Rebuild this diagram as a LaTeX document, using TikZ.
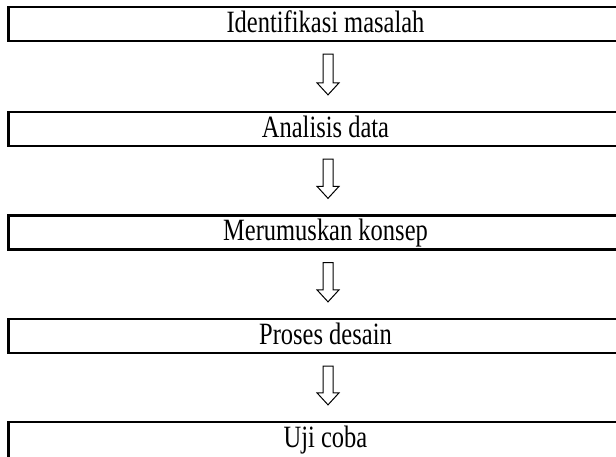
\documentclass[tikz,border=0pt]{standalone}
\usepackage{fontspec}
\setmainfont[FakeStretch=0.79]{Liberation Serif}
\usetikzlibrary{calc}
\begin{document}
\begin{tikzpicture}[x=1pt,y=1pt,
  stagebox/.style={draw, line width=2.3pt, minimum width=634pt, minimum height=34pt,
    inner sep=0pt, font=\fontsize{31}{33}\selectfont, text height=22pt, text depth=5pt},
  hollowline/.style={draw, line width=1pt, line join=miter}]
\useasboundingbox (0,0) rectangle (616,-457);
\clip (0,0) rectangle (616,-457);
% process stages, top to bottom
\node[stagebox] (s1) at (325.5,-24)  {Identifikasi masalah};
\node[stagebox] (s2) at (325.5,-129) {Analisis data};
\node[stagebox] (s3) at (325.5,-232.5) {Merumuskan konsep};
\node[stagebox] (s4) at (325.5,-336) {Proses desain};
\node[stagebox, minimum height=40pt, text height=19pt, text depth=8pt] (s5) at (325.5,-442) {Uji coba};
% hollow downward arrows between consecutive stages
\foreach \a/\b in {s1/s2, s2/s3, s3/s4, s4/s5}{
  \path ($(\a.south)+(2.5,-12)$) coordinate (top) ($(\b.north)+(2.5,16)$) coordinate (tip);
  \draw[hollowline] let \p1=(top), \p2=(tip) in
    (\x1-5,\y1) -- (\x1-5,\y2+12) -- (\x1-11,\y2+12) -- (\x1,\y2)
    -- (\x1+11,\y2+12) -- (\x1+5,\y2+12) -- (\x1+5,\y1) -- cycle;
}
\end{tikzpicture}
\end{document}
